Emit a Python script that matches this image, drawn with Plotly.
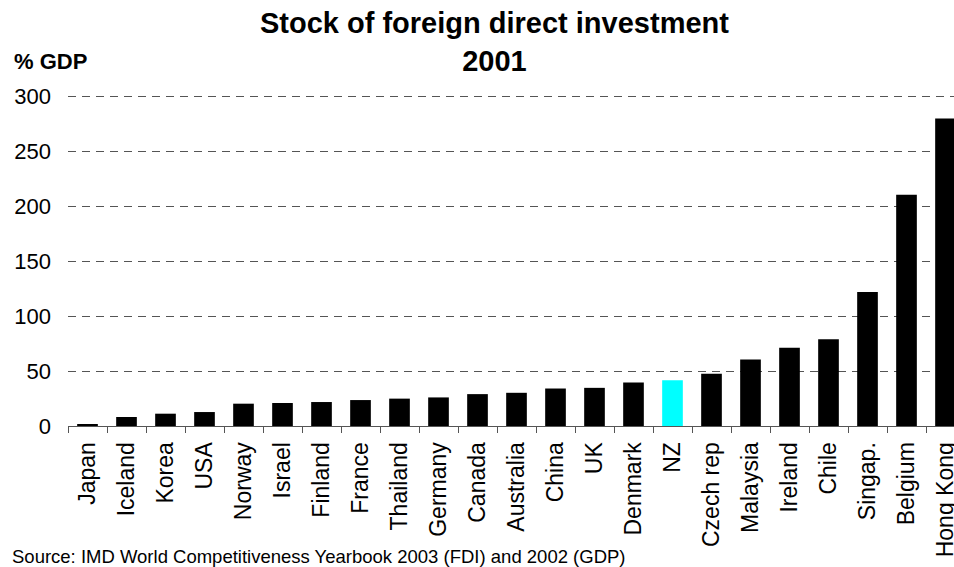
import plotly.graph_objects as go

countries = ["Japan", "Iceland", "Korea", "USA", "Norway", "Israel", "Finland", "France",
             "Thailand", "Germany", "Canada", "Australia", "China", "UK", "Denmark", "NZ",
             "Czech rep", "Malaysia", "Ireland", "Chile", "Singap.", "Belgium", "Hong Kong"]
fdi_pct_gdp = [1.3, 8.2, 11.2, 12.7, 20.3, 20.9, 21.8, 23.6, 24.9, 26.0, 29.0, 30.2, 34.1,
               34.7, 39.5, 41.6, 47.6, 60.6, 71.2, 78.8, 122.0, 210.3, 279.7]
y_ticks = [0, 50, 100, 150, 200, 250, 300]
highlight = "NZ"

colors = ["#00FFFF" if c == highlight else "#000000" for c in countries]

W, H = 954, 567
ml, mr, mt, mb = 68, 0, 94, 141
pw, ph = W - ml - mr, H - mt - mb
step_px = 39.0
x_max = -0.5 + pw / step_px
y_top = 302


def py(p):
    return (H - mb - p) / ph


def px(p):
    return (p - ml) / pw


font = "Liberation Sans, Arial, sans-serif"

fig = go.Figure(go.Bar(
    x=countries, y=fdi_pct_gdp, marker=dict(color=colors, line=dict(width=0)),
    width=0.53,
))

fig.update_layout(
    width=W, height=H,
    margin=dict(l=ml, r=mr, t=mt, b=mb, autoexpand=False),
    paper_bgcolor="white", plot_bgcolor="white",
    showlegend=False,
    font=dict(family=font, color="black", size=22),
)

fig.update_xaxes(
    type="category", range=[-0.5, x_max],
    showline=True, linecolor="#555555", linewidth=1,
    ticks="outside", tickson="boundaries", ticklen=6, tickcolor="#555555",
    tickangle=-90, tickfont=dict(size=23, family=font, color="black"),
    ticklabelstandoff=6,
    showgrid=False,
)
fig.update_yaxes(
    range=[0, y_top], tickvals=y_ticks, ticktext=[str(v) for v in y_ticks],
    showgrid=True, gridcolor="#555555", gridwidth=1, griddash="8px,6px",
    zeroline=False, showline=False, ticks="",
    tickfont=dict(size=22, family=font, color="black"),
    ticklabelstandoff=16,
)

fig.add_annotation(text="<b>Stock of foreign direct investment<br>2001</b>",
                   xref="paper", yref="paper", x=px(494), y=py(42),
                   xanchor="center", yanchor="middle", align="center",
                   showarrow=False, font=dict(family=font, size=29, color="black"))
fig.add_annotation(text="<b>% GDP</b>", xref="paper", yref="paper",
                   x=px(12), y=py(61), xanchor="left", yanchor="middle",
                   showarrow=False, font=dict(family=font, size=22, color="black"))
fig.add_annotation(text="Source: IMD World Competitiveness Yearbook 2003 (FDI) and 2002 (GDP)",
                   xref="paper", yref="paper",
                   x=px(10), y=py(556), xanchor="left", yanchor="middle",
                   showarrow=False, font=dict(family=font, size=18.5, color="black"))

fig.write_html("out.html")
